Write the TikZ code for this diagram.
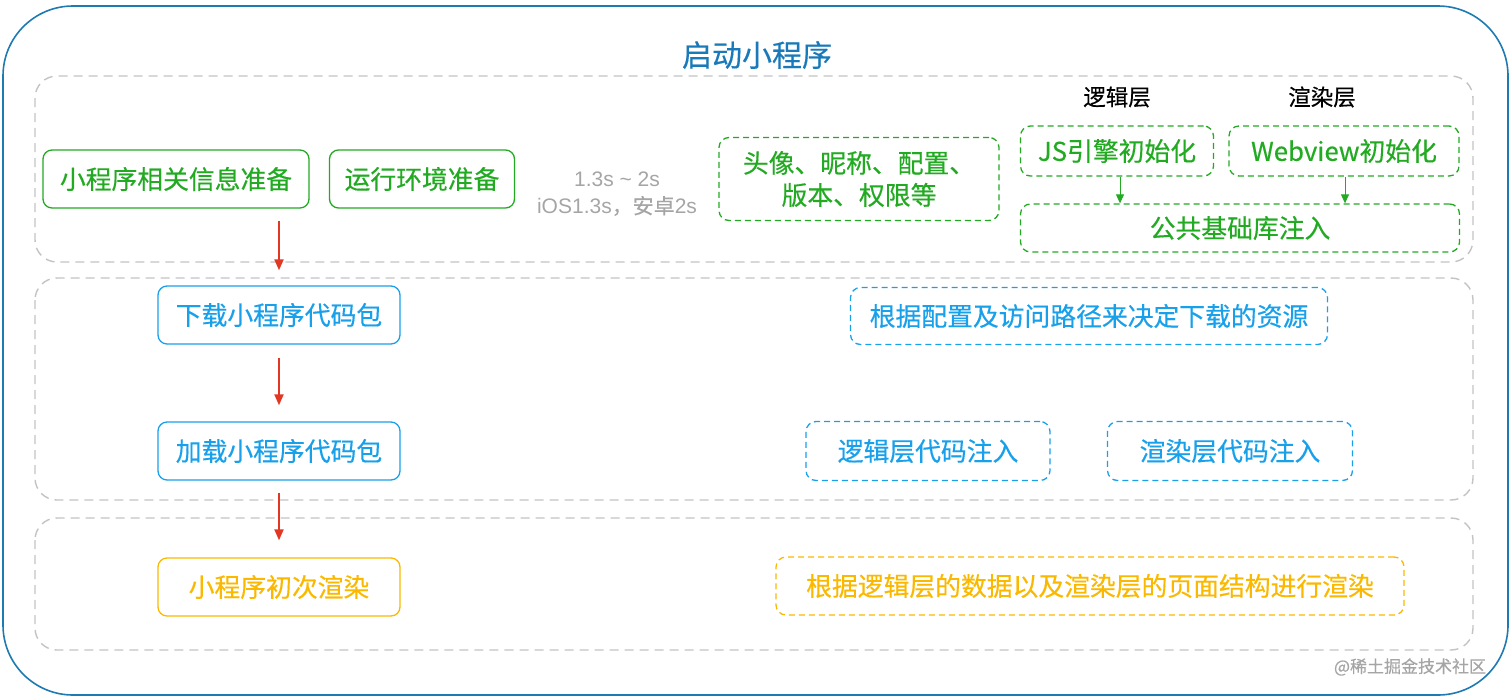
\documentclass[tikz,border=0pt]{standalone}
\usepackage{fontspec}
\setmainfont{Noto Sans CJK SC}[FakeBold=0.4]
\newfontfamily\latinsans{Liberation Sans}
\usetikzlibrary{arrows.meta}
\definecolor{gn}{RGB}{34,170,34}
\definecolor{bl}{RGB}{24,160,235}
\definecolor{yl}{RGB}{250,185,0}
\definecolor{outerbl}{RGB}{30,122,178}
\definecolor{titlebl}{RGB}{26,122,185}
\definecolor{grayline}{RGB}{195,195,195}
\definecolor{graytext}{RGB}{165,165,165}
\definecolor{redarrow}{RGB}{225,55,35}
\tikzset{
  mainfont/.style={font=\fontsize{25.8}{32}\selectfont},
  solidbox/.style={draw, rounded corners=9pt, line width=1.3pt, inner sep=0pt, mainfont},
  dashbox/.style={draw, rounded corners=10pt, line width=1.3pt, dash pattern=on 6pt off 4pt, inner sep=0pt, mainfont},
  graybox/.style={draw=grayline, rounded corners=22pt, line width=1.4pt, dash pattern=on 9pt off 6pt},
  redarr/.style={draw=redarrow, line width=2pt, -{Triangle[length=11pt,width=9pt]}},
  gnarr/.style={draw=gn, line width=1pt, -{Triangle[length=9pt,width=8pt]}},
  layerlabel/.style={font=\fontsize{22.5}{26}\selectfont, text=black},
}
\begin{document}
\begin{tikzpicture}[x=1pt,y=-1pt]
\useasboundingbox (0,0) rectangle (1512,699);
% outer frame
\draw[outerbl, line width=1.6pt, rounded corners=70pt] (3,6) rectangle (1508,695);
\node[text=titlebl, font=\fontsize{30}{34}\selectfont] (title) at (757,55) {启动小程序};
% gray section boxes
\draw[graybox] (35,76) rectangle (1473,262);
\draw[graybox] (35,278) rectangle (1473,500);
\draw[graybox] (35,518) rectangle (1473,650);

% row 1
\node[solidbox, draw=gn, text=gn, minimum width=266pt, minimum height=58pt] (info) at (176,179) {小程序相关信息准备};
\node[solidbox, draw=gn, text=gn, minimum width=185pt, minimum height=58pt] (env) at (422,179) {运行环境准备};
\node[text=graytext, font=\fontsize{21}{27}\selectfont, align=center] (time) at (617,194) {{\latinsans 1.3s \textasciitilde{} 2s}\\{\latinsans iOS1.3s}，安卓{\latinsans 2s}};
\node[dashbox, draw=gn, text=gn, minimum width=280pt, minimum height=83pt, align=center] (avatar) at (859,179) {头像、昵称、配置、\\版本、权限等};
\node[layerlabel] (logic) at (1117,97) {逻辑层};
\node[layerlabel] (render) at (1322,97) {渲染层};
\node[dashbox, draw=gn, text=gn, minimum width=193pt, minimum height=50pt] (js) at (1117,151) {JS引擎初始化};
\node[dashbox, draw=gn, text=gn, minimum width=230pt, minimum height=50pt] (wv) at (1344,151) {Webview初始化};
\node[dashbox, draw=gn, text=gn, minimum width=439pt, minimum height=48pt] (base) at (1240,228) {公共基础库注入};
\coordinate (jsx) at (1120,0);
\coordinate (wvx) at (1345,0);
\draw[gnarr] (jsx |- js.south) -- (jsx |- base.north);
\draw[gnarr] (wvx |- wv.south) -- (wvx |- base.north);

% row 2
\node[solidbox, draw=bl, text=bl, minimum width=242pt, minimum height=58pt] (dl) at (279,315) {下载小程序代码包};
\node[dashbox, draw=bl, text=bl, minimum width=477pt, minimum height=57pt] (res) at (1089,316) {根据配置及访问路径来决定下载的资源};
\node[solidbox, draw=bl, text=bl, minimum width=242pt, minimum height=58pt] (load) at (279,451) {加载小程序代码包};
\node[dashbox, draw=bl, text=bl, minimum width=244pt, minimum height=59pt] (logiccode) at (928,451) {逻辑层代码注入};
\node[dashbox, draw=bl, text=bl, minimum width=245pt, minimum height=59pt] (rendercode) at (1230,451) {渲染层代码注入};

% row 3
\node[solidbox, draw=yl, text=yl, minimum width=242pt, minimum height=58pt] (first) at (279,587) {小程序初次渲染};
\node[dashbox, draw=yl, text=yl, minimum width=628pt, minimum height=58pt] (renderdesc) at (1090,586) {根据逻辑层的数据以及渲染层的页面结构进行渲染};

% red arrows
\draw[redarr, shorten <=12pt, shorten >=15pt] (info.south -| dl.north) -- (dl.north);
\draw[redarr, shorten <=13pt, shorten >=16pt] (dl.south) -- (load.north);
\draw[redarr, shorten <=12pt, shorten >=17pt] (load.south) -- (first.north);

% watermark
\node[text=graytext, font=\fontsize{17}{20}\selectfont] (wm) at (1410,667) {@稀土掘金技术社区};
\end{tikzpicture}
\end{document}
